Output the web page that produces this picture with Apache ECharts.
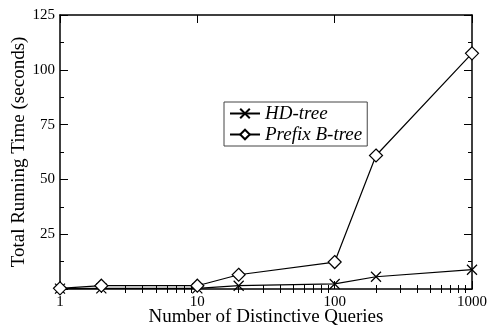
<!DOCTYPE html>
<html><head><meta charset="utf-8">
<script src="https://cdn.jsdelivr.net/npm/echarts@6/dist/echarts.min.js"></script>
<style>html,body{margin:0;padding:0;background:#fff}#c{width:487px;height:329px}</style>
</head><body><div id="c"></div>
<script>
const queries = [1, 2, 10, 20, 100, 200, 1000];
const hdTree = [0.2, 0.3, 0.3, 1.5, 2.3, 5.6, 8.8];
const prefixBTree = [0.3, 1.5, 1.5, 6.5, 12.3, 60.9, 107.5];
const xTickLabels = [1, 10, 100, 1000];
const xMinorTicks = [2,3,4,5,6,7,8,9,20,30,40,50,60,70,80,90,200,300,400,500,600,700,800,900];
const yTicks = [0, 25, 50, 75, 100, 125];

const FONT = '"Liberation Serif", "Times New Roman", serif';
const crossPath = 'path://M0,0L10,10M10,0L0,10';

const chart = echarts.init(document.getElementById('c'), null, {renderer: 'canvas'});
const grid = {left: 60, right: 15, top: 15, bottom: 40, containLabel: false, outerBoundsMode: 'none'};
const axLine = {show: true, onZero: false, lineStyle: {color: '#000', width: 1.5}};
chart.setOption({
  animation: false,
  backgroundColor: '#fff',
  grid: grid,
  legend: {
    left: 224, top: 102, orient: 'vertical',
    backgroundColor: '#fff', borderColor: '#444', borderWidth: 1,
    padding: [2, 5, 2, 5], itemGap: 2, itemWidth: 30, itemHeight: 12,
    textStyle: {fontFamily: FONT, fontStyle: 'italic', fontSize: 19, color: '#000'},
    data: ['HD-tree', 'Prefix B-tree']
  },
  xAxis: [
    {type: 'log', logBase: 10, min: 1, max: 1000, position: 'bottom',
     name: 'Number of Distinctive Queries', nameLocation: 'middle', nameGap: 19, nameMoveOverlap: false,
     nameTextStyle: {fontFamily: FONT, fontSize: 19, color: '#000'},
     axisLine: axLine,
     axisTick: {inside: true, length: 8, lineStyle: {color: '#000'}, customValues: xTickLabels},
     axisLabel: {fontFamily: FONT, fontSize: 15, color: '#000', margin: 6, customValues: xTickLabels,
       formatter: v => String(v)},
     splitLine: {show: false}, minorTick: {show: false}},
    {type: 'log', logBase: 10, min: 1, max: 1000, position: 'bottom', gridIndex: 0,
     axisLine: {show: false},
     axisTick: {inside: true, length: 4, lineStyle: {color: '#000'}, customValues: xMinorTicks},
     axisLabel: {show: false}, splitLine: {show: false}},
    {type: 'log', logBase: 10, min: 1, max: 1000, position: 'top', gridIndex: 0,
     axisLine: axLine,
     axisTick: {inside: true, length: 8, lineStyle: {color: '#000'}, customValues: xTickLabels},
     axisLabel: {show: false}, splitLine: {show: false}},
    {type: 'log', logBase: 10, min: 1, max: 1000, position: 'top', gridIndex: 0,
     axisLine: {show: false},
     axisTick: {inside: true, length: 4, lineStyle: {color: '#000'}, customValues: xMinorTicks},
     axisLabel: {show: false}, splitLine: {show: false}}
  ],
  yAxis: [
    {type: 'value', min: 0, max: 125, interval: 25, position: 'left',
     name: 'Total Running Time (seconds)', nameLocation: 'middle', nameGap: 31, nameMoveOverlap: false,
     nameTextStyle: {fontFamily: FONT, fontSize: 19, color: '#000'},
     axisLine: axLine,
     axisTick: {inside: true, length: 8, lineStyle: {color: '#000'}},
     minorTick: {show: true, splitNumber: 2, length: 4, lineStyle: {color: '#000'}},
     axisLabel: {fontFamily: FONT, fontSize: 15, color: '#000', margin: 5,
       formatter: v => v === 0 ? '' : String(v)},
     splitLine: {show: false}},
    {type: 'value', min: 0, max: 125, interval: 25, position: 'right',
     axisLine: axLine,
     axisTick: {inside: true, length: 8, lineStyle: {color: '#000'}},
     minorTick: {show: true, splitNumber: 2, length: 4, lineStyle: {color: '#000'}},
     axisLabel: {show: false}, splitLine: {show: false}}
  ],
  series: [
    {name: 'HD-tree', type: 'line', xAxisIndex: 0, yAxisIndex: 0,
     data: queries.map((q, i) => [q, hdTree[i]]),
     symbol: crossPath, symbolSize: 10, showAllSymbol: true,
     itemStyle: {color: '#000', borderColor: '#000', borderWidth: 1.2},
     lineStyle: {color: '#000', width: 1.2}, z: 3},
    {name: 'Prefix B-tree', type: 'line', xAxisIndex: 0, yAxisIndex: 0,
     data: queries.map((q, i) => [q, prefixBTree[i]]),
     symbol: 'diamond', symbolSize: 13, showAllSymbol: true,
     itemStyle: {color: '#fff', borderColor: '#000', borderWidth: 1.2},
     lineStyle: {color: '#000', width: 1.2}, z: 4}
  ]
});
</script></body></html>
